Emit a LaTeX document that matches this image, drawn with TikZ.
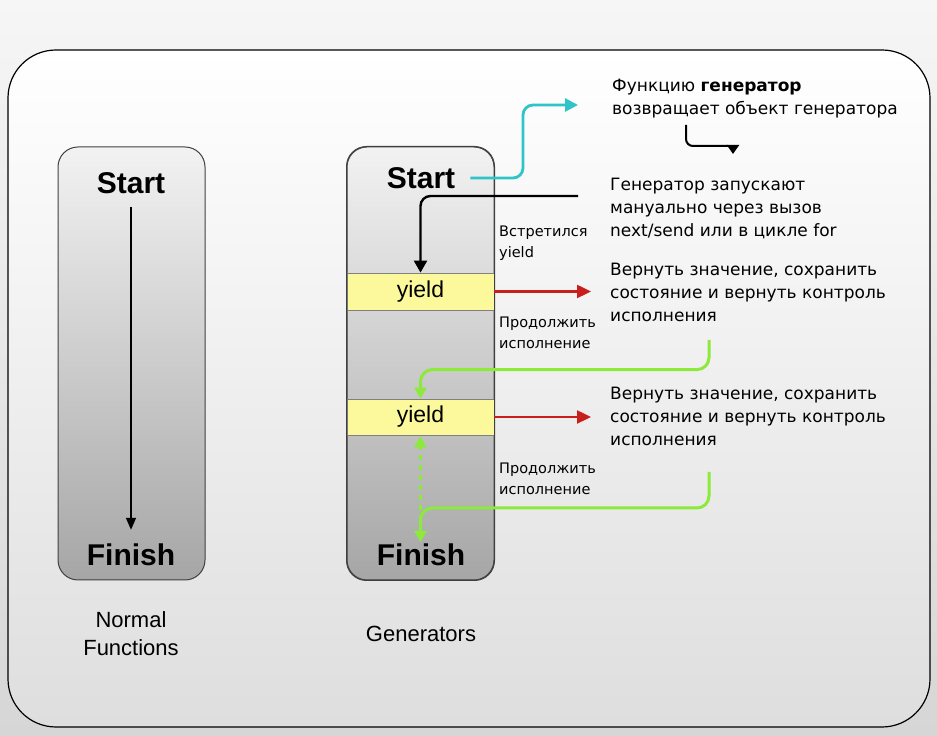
\documentclass[tikz,border=0pt]{standalone}
\usepackage{fontspec}
\setmainfont{Liberation Sans}
\newfontfamily\notefont{DejaVu Sans}
\usetikzlibrary{arrows.meta,calc}
\definecolor{cyanA}{HTML}{2EC4C8}
\definecolor{redA}{HTML}{C81E1E}
\definecolor{greenA}{HTML}{8BEA3A}
\definecolor{yel}{HTML}{FBF99B}
\definecolor{colTop}{HTML}{F2F2F2}
\definecolor{colBot}{HTML}{A6A6A6}
\definecolor{bgTop}{HTML}{F6F6F6}
\definecolor{bgBot}{HTML}{D6D6D6}
\definecolor{inBot}{HTML}{DEDEDE}
\begin{document}
\begin{tikzpicture}[x=1pt,y=1pt,
  col/.style={draw=black!75, line width=1pt, rounded corners=20pt, top color=colTop, bottom color=colBot, minimum width=147pt, minimum height=433pt, inner sep=0pt},
  colborder/.style={draw=black!75, line width=1pt, rounded corners=20pt},
  band/.style={draw=black!50, line width=0.8pt, fill=yel, minimum width=147pt, inner sep=0pt, font=\fontsize{23}{23}\selectfont},
  big/.style={font=\bfseries\fontsize{30}{30}\selectfont, inner sep=0pt},
  note/.style={anchor=north west, align=left, inner sep=0pt, font=\notefont\fontsize{17}{23}\selectfont},
  small/.style={anchor=north west, align=left, inner sep=0pt, font=\notefont\fontsize{14.5}{21}\selectfont},
  lbl/.style={align=center, inner sep=0pt, font=\fontsize{22}{28}\selectfont},
  blk/.style={draw=black, line width=2.4pt, -{Triangle[length=12pt,width=13pt]}},
  thin/.style={draw=black, line width=1.5pt, -{Triangle[length=12pt,width=10pt]}},
  cy/.style={draw=cyanA, line width=2.8pt, -{Triangle[length=13pt,width=13pt]}},
  rd/.style={draw=redA, line width=2.4pt, -{Triangle[length=14pt,width=13pt]}},
  gr/.style={draw=greenA, line width=3pt, -{Triangle[length=11pt,width=12pt]}}
]
\useasboundingbox (0,0) rectangle (937,736);
\shade[top color=bgTop, bottom color=bgBot] (0,0) rectangle (937,736);
\shade[top color=white, bottom color=inBot, draw=black, line width=1.2pt, rounded corners=48pt] (8,9) rectangle (930,686);

% columns
\node[col] (nf) at (131.5,372.5) {};
\node[col] (gen) at (420.5,372.5) {};
\node[band, minimum height=37pt] (y1) at (420.5,444.5) {yield};
\node[band, minimum height=36pt] (y2) at (420.5,319) {yield};
\draw[colborder] (gen.south west) rectangle (gen.north east);

\node[big] (ns) at (131,553) {Start};
\node[big] (nfin) at (131,181) {Finish};
\node[big] (ms) at (421,558) {Start};
\node[big] (mfin) at (421,181) {Finish};

\node[lbl] (nl) at (131,102) {Normal\\Functions};
\node[lbl] (gl) at (421,102) {Generators};

% texts
\node[note] (f1) at (612,657) {Функцию \textbf{генератор}\\возвращает объект генератора};
\node[note] (f2) at (610,558) {Генератор запускают\\мануально через вызов\\next/send или в цикле for};
\node[note] (f3) at (610,473) {Вернуть значение, сохранить\\состояние и вернуть контроль\\исполнения};
\node[note] (f4) at (610,349) {Вернуть значение, сохранить\\состояние и вернуть контроль\\исполнения};
\node[small] (s1) at (499,510) {Встретился\\yield};
\node[small] (s2) at (499,419) {Продолжить\\исполнение};
\node[small] (s3) at (499,273) {Продолжить\\исполнение};

% coordinates
\coordinate (c1) at (578,631);
\coordinate (c2) at (578,540);
\coordinate (c3) at (686,611);
\coordinate (c4) at (728,590);
\coordinate (c5) at (733,591);
\coordinate (c6) at (733,582);
\coordinate (r1) at (591,444.5);
\coordinate (r2) at (591,319);
\coordinate (g1) at (709,396);
\coordinate (g2) at (709,264);
\coordinate (g2e) at (420.5,194);
\coordinate (d1) at (420.5,216);

% connectors
\draw[thin, shorten <=13pt, shorten >=14pt] (ns) -- (nfin);
\draw[cy, rounded corners=10pt, shorten <=15pt] (ms.east) -| ($(c1)+(-55,0)$) -- (c1);
\draw[blk, rounded corners=10pt] (c2) -| (y1.north);
\draw[draw=black, line width=2pt, rounded corners=7pt] (c3) |- (c4);
\draw[draw=black, line width=2pt, -{Triangle[length=9pt,width=12pt]}] (c5) -- (c6);
\draw[rd] (y1.east) -- (r1);
\draw[rd] (y2.east) -- (r2);
\draw[gr, rounded corners=12pt] (g1) |- ($(y2.north)+(0,29)$) -- (y2.north);
\draw[gr, rounded corners=12pt] (g2) |- ($(g2e)+(0,34)$) -- (g2e);
\draw[gr, dash pattern=on 5pt off 5pt, shorten >=1pt] (d1) -- (y2.south);
\end{tikzpicture}
\end{document}
